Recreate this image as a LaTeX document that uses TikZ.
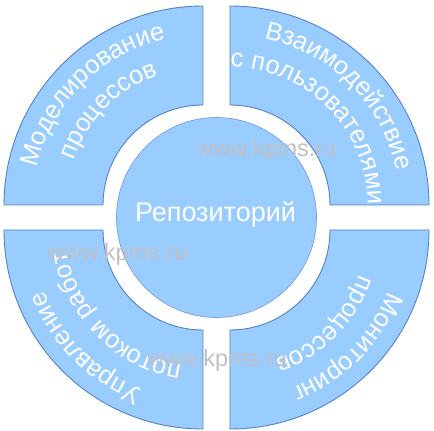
\documentclass[tikz,border=0pt]{standalone}
\usepackage{fontspec}
\setmainfont{Liberation Sans}
\usetikzlibrary{decorations.text}
\definecolor{segfill}{RGB}{153,204,255}
\definecolor{segline}{RGB}{84,128,205}
\definecolor{hubline}{RGB}{120,160,235}
\definecolor{wmgray}{RGB}{192,192,198}
\newcommand{\segfont}{\fontsize{25.5}{30}\selectfont}

\begin{document}
\begin{tikzpicture}[x=1pt, y=1pt,
  seg/.style={fill=segfill, draw=segline, line width=0.9pt},
  hub/.style={circle, fill=segfill, draw=hubline, line width=0.7pt, minimum size=200pt, inner sep=0pt},
  hubtext/.style={white, font=\fontsize{27}{30}\selectfont, anchor=base},
  arctext/.style={decorate, decoration={text along path, text align=center, text color=white}},
  wmark/.style={wmgray, font=\fontsize{23.5}{26}\selectfont, anchor=base}]
\useasboundingbox (-216.5,-213.5) rectangle (217.5,217.5);

% four ring segments
\draw[seg] (-13.5,12.5) ++(180:199) arc[start angle=180, end angle=90, radius=199]
    -- ++(0,-99) arc[start angle=90, end angle=180, radius=100] -- cycle;
\draw[seg] (13.5,12.5) ++(90:199) arc[start angle=90, end angle=0, radius=199]
    -- ++(-99,0) arc[start angle=0, end angle=90, radius=100] -- cycle;
\draw[seg] (13.5,-12.5) ++(0:199) arc[start angle=0, end angle=-90, radius=199]
    -- ++(0,99) arc[start angle=-90, end angle=0, radius=100] -- cycle;
\draw[seg] (-13.5,-12.5) ++(-90:199) arc[start angle=-90, end angle=-180, radius=199]
    -- ++(99,0) arc[start angle=-180, end angle=-90, radius=100] -- cycle;

% centre
\node[hub] (repo) at (0,0) {};
\node[hubtext] (repolabel) at (-1,-4.5) {Репозиторий};

% curved labels, outer line then inner line
\path[arctext, decoration={text={|\segfont|Моделирование}}]
    (-13.5,12.5) ++(205:170) arc[start angle=205, end angle=65, radius=170];
\path[arctext, decoration={text={|\segfont|процессов}}]
    (-13.5,12.5) ++(205:137) arc[start angle=205, end angle=65, radius=137];
\path[arctext, decoration={text={|\segfont|Взаимодействие}}]
    (13.5,12.5) ++(115:170) arc[start angle=115, end angle=-25, radius=170];
\path[arctext, decoration={text={|\segfont|с пользователями}}]
    (13.5,12.5) ++(115:138) arc[start angle=115, end angle=-25, radius=138];
\path[arctext, decoration={text={|\segfont|Мониторинг}}]
    (13.5,-12.5) ++(25:170) arc[start angle=25, end angle=-115, radius=170];
\path[arctext, decoration={text={|\segfont|процессов}}]
    (13.5,-12.5) ++(25:137) arc[start angle=25, end angle=-115, radius=137];
\path[arctext, decoration={text={|\segfont|Управление}}]
    (-13.5,-12.5) ++(295:170) arc[start angle=295, end angle=155, radius=170];
\path[arctext, decoration={text={|\segfont|потоком работ}}]
    (-13.5,-12.5) ++(295:137) arc[start angle=295, end angle=155, radius=137];

% watermarks
\node[wmark] (wm1) at (50,60.5) {www.kpms.ru};
\node[wmark] (wm2) at (-99,-43.5) {www.kpms.ru};
\node[wmark] (wm3) at (0.5,-148.5) {www.kpms.ru};
\end{tikzpicture}
\end{document}
